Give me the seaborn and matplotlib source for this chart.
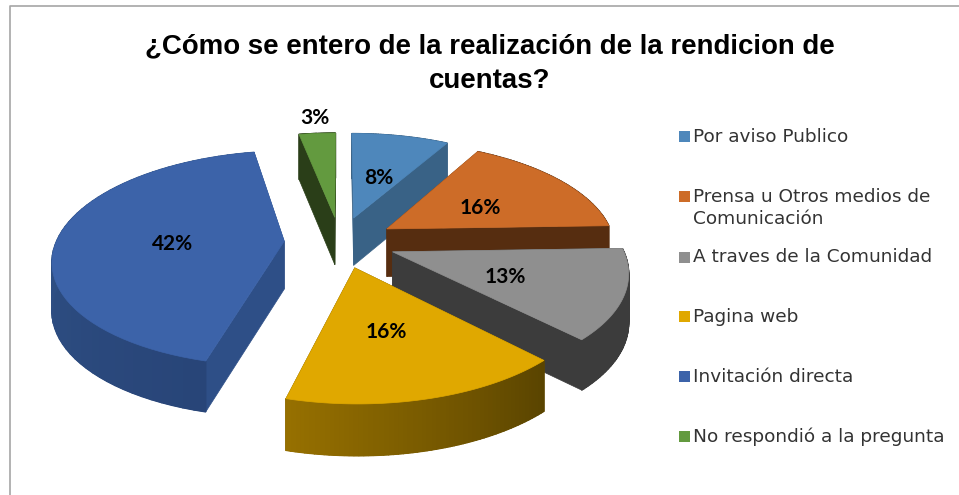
import numpy as np
import matplotlib
matplotlib.use("Agg")
import matplotlib.pyplot as plt
from matplotlib.patches import Polygon, Rectangle
from matplotlib.colors import to_rgb
import seaborn as sns

title = "¿Cómo se entero de la realización de la rendicion de\ncuentas?"
categories = ["Por aviso Publico", "Prensa u Otros medios de\nComunicación",
              "A traves de la Comunidad", "Pagina web", "Invitación directa",
              "No respondió a la pregunta"]
values = [8, 16, 13, 16, 42, 3]
top_colors = ["#4E87BB", "#CD6C28", "#8F8F8F", "#E0A800", "#3C63A9", "#639A3F"]
cut_colors = ["#396286", "#562D10", "#3C3C3C", "#5A4400", "#2E4F87", "#2A3E18"]
wall_light = ["#396286", "#562D10", "#3C3C3C", "#967000", "#35598F", "#2A3E18"]
wall_dark = ["#396286", "#562D10", "#3C3C3C", "#5A4400", "#284578", "#2A3E18"]

sns.set_theme(style="white")
palette = sns.color_palette(top_colors)

# projection of the tilted pie
CX, CY, R, RY, PERSP, DEPTH, EXPLODE = 340, 242, 228, 105, 0.16, 48, 0.245
LABEL_R = [0.5, 0.5, 0.5, 0.5, 0.5, 1.28]
LABEL_DX = [0, 3, 0, -2, 2, 2]
LABEL_DY = 4


def project(u, v, z=0.0):
    k = 1 / (1 + PERSP * v)
    return CX + R * u * k, CY - RY * v * k + DEPTH * k ** 0.35 * z


fig = plt.figure(figsize=(9.59, 4.95), dpi=100)
ax = fig.add_axes([0, 0, 1, 1])
ax.set_xlim(0, 959)
ax.set_ylim(495, 0)
ax.axis("off")

fractions = np.array(values, float) / np.sum(values)
edges = np.concatenate([[0], np.cumsum(fractions)]) * 2 * np.pi
order = [0, 5, 1, 4, 2, 3]

for i in order:
    a0, a1 = edges[i], edges[i + 1]
    mid = (a0 + a1) / 2
    ou, ov = EXPLODE * np.sin(mid), EXPLODE * np.cos(mid)
    arc = np.linspace(a0, a1, 60)
    au, av = ou + np.sin(arc), ov + np.cos(arc)
    tx, ty = project(au, av)
    bx, by = project(au, av, 1.0)
    tipx, tipy = project(ou, ov)
    tipbx, tipby = project(ou, ov, 1.0)
    # cut faces
    ax.add_patch(Polygon([(tipx, tipy), (tx[0], ty[0]), (bx[0], by[0]), (tipbx, tipby)],
                         fc=cut_colors[i], ec=cut_colors[i], lw=0.5))
    ax.add_patch(Polygon([(tipx, tipy), (tx[-1], ty[-1]), (bx[-1], by[-1]), (tipbx, tipby)],
                         fc=cut_colors[i], ec=cut_colors[i], lw=0.5))
    # outer wall: solid base, then a gradient laid over it
    cl, cd = np.array(to_rgb(wall_light[i])), np.array(to_rgb(wall_dark[i]))
    base = (cl + cd) / 2
    ax.add_patch(Polygon(np.column_stack([np.r_[tx, bx[::-1]], np.r_[ty, by[::-1]]]),
                         fc=base, ec=base, lw=0.5))
    for j in range(len(arc) - 1):
        t = j / (len(arc) - 2)
        c = cd * (1 - t) + cl * t
        ax.add_patch(Polygon([(tx[j], ty[j]), (tx[j + 1], ty[j + 1]),
                              (bx[j + 1], by[j + 1]), (bx[j], by[j])],
                             fc=c, ec=c, lw=1.0))
    # top face
    ax.add_patch(Polygon(np.column_stack([np.r_[tipx, tx], np.r_[tipy, ty]]),
                         fc=palette[i], ec=palette[i], lw=0.5))

# percent labels above every slice
for i in range(len(values)):
    mid = (edges[i] + edges[i + 1]) / 2
    ou, ov = EXPLODE * np.sin(mid), EXPLODE * np.cos(mid)
    lx, ly = project(ou + LABEL_R[i] * np.sin(mid), ov + LABEL_R[i] * np.cos(mid))
    ax.text(lx + LABEL_DX[i], ly + LABEL_DY, f"{values[i]}%", ha="center", va="center",
            fontsize=15, fontweight="bold", family="Lato", color="black", zorder=5)

ax.text(490, 63.5, title, ha="center", va="center", fontsize=19.9, fontweight="bold",
        family="Liberation Sans", color="black", linespacing=1.46)

# legend
legend_y = [136, 196, 257, 316, 376, 436]
for y, cat, col in zip(legend_y, categories, palette):
    ax.add_patch(Rectangle((679, y - 5.5), 11, 11, fc=col, ec="none"))
    ax.text(693, y - 8.5, cat, ha="left", va="top", fontsize=13.3, family="DejaVu Sans",
            color="#333333", linespacing=1.35)

# chart frame
ax.plot([10, 10, 959], [495, 6, 6], color="#A6A6A6", lw=1.2, clip_on=False)

fig.savefig("out.png", dpi=100)
